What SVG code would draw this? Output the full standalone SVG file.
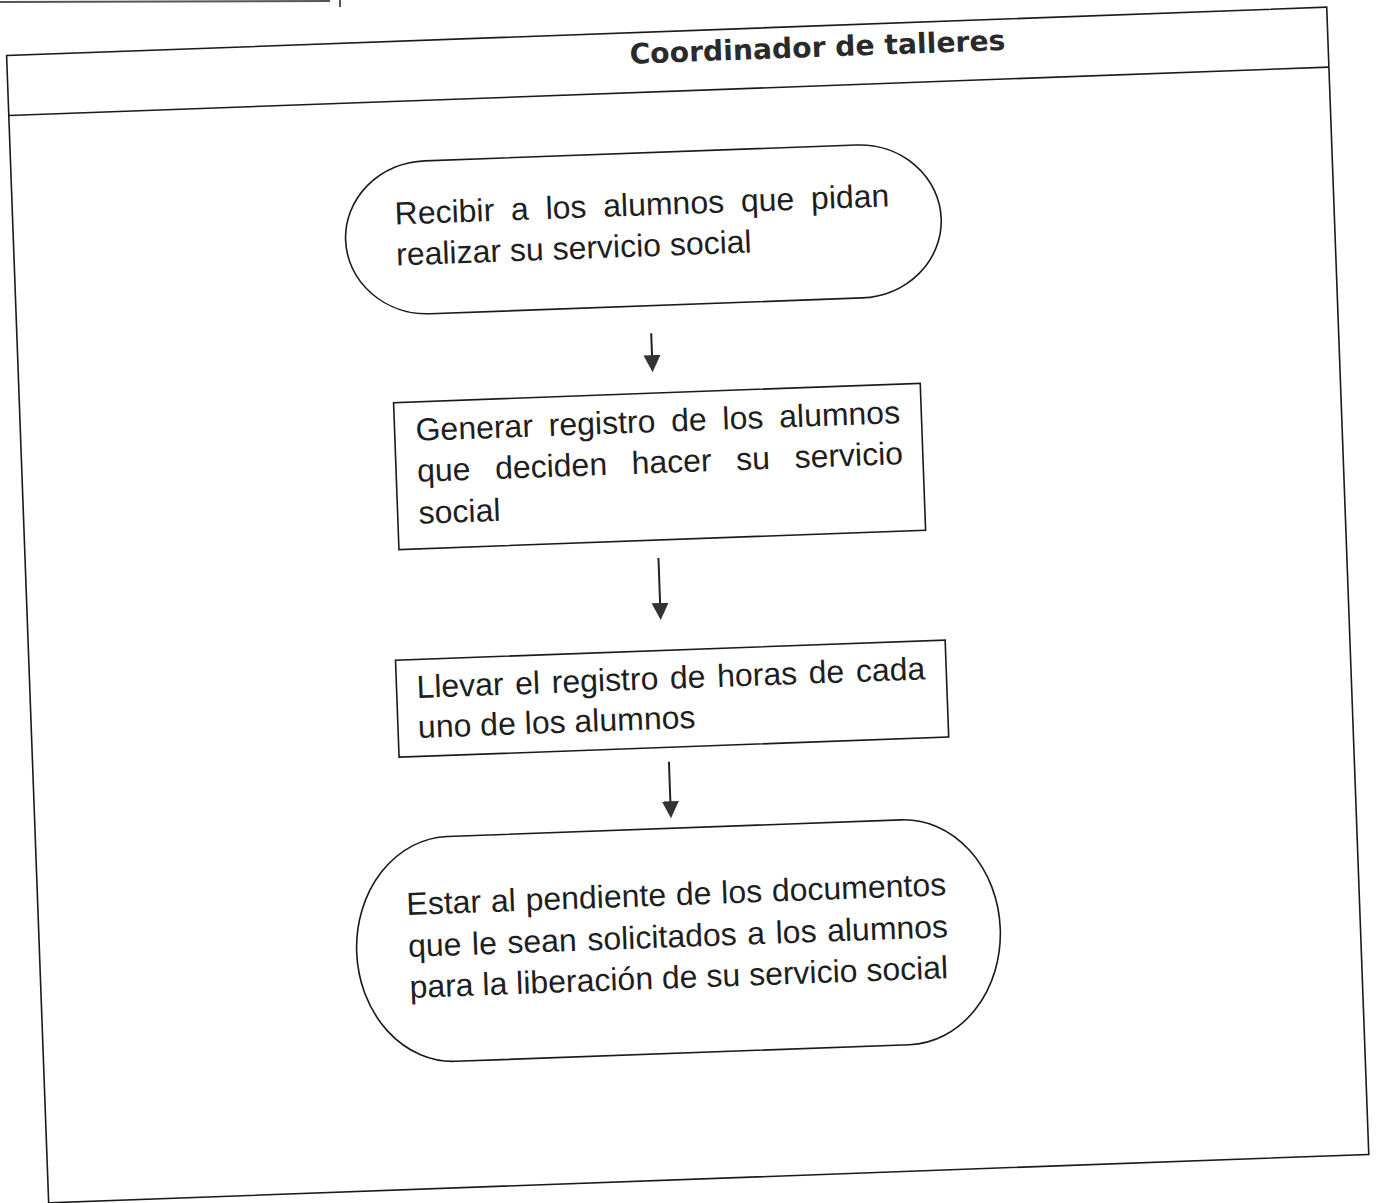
<svg xmlns="http://www.w3.org/2000/svg" width="1376" height="1203" viewBox="0 0 1376 1203">
<style>
.frame{fill:none;stroke:#1a1a1a;stroke-width:1.6}
.node{fill:#fff;stroke:#1a1a1a;stroke-width:1.6}
.t{font-family:"Liberation Sans",Arial,sans-serif;font-size:32px;fill:#1e1e1e}
.title{font-family:"DejaVu Sans",Verdana,sans-serif;font-weight:bold;font-size:28px;fill:#2a2a2a}
.edge{stroke:#222;stroke-width:2;fill:none}
.scrap{stroke:#555;stroke-width:2;fill:none}
</style>
<defs>
<marker id="ah" markerUnits="userSpaceOnUse" markerWidth="18" markerHeight="18" refX="9" refY="8.5" orient="auto">
<path d="M0,0 L17,8.5 L0,17 z" fill="#333"/>
</marker>
</defs>
<rect x="0" y="0" width="1376" height="1203" fill="#fff"/>
<g id="scraps">
<line class="scrap" x1="0" y1="2" x2="330" y2="1"/>
<line class="scrap" x1="340" y1="0" x2="340" y2="7"/>
</g>
<g transform="rotate(-2.1 688 600)">
<g id="lane">
<rect class="frame" x="27" y="31" width="1321" height="1148"/>
<line class="frame" x1="27" y1="91" x2="1348" y2="91"/>
<text class="title" x="649.6" y="62" textLength="376" lengthAdjust="spacingAndGlyphs">Coordinador de talleres</text>
</g>
<g id="connectors">
<line class="edge" x1="661" y1="332" x2="661" y2="363" marker-end="url(#ah)"/>
<line class="edge" x1="660" y1="557" x2="660" y2="611" marker-end="url(#ah)"/>
<line class="edge" x1="663" y1="761" x2="663" y2="809.5" marker-end="url(#ah)"/>
</g>
<g id="n1">
<rect class="node" x="359" y="151.5" width="596" height="153" rx="82" ry="76.5"/>
<text class="t" x="409" y="214" word-spacing="7.9">Recibir a los alumnos que pidan</text>
<text class="t" x="409" y="255">realizar su servicio social</text>
</g>
<g id="n2">
<rect class="node" x="401" y="392" width="527" height="147"/>
<text class="t" x="422" y="431" word-spacing="6.9">Generar registro de los alumnos</text>
<text class="t" x="422" y="472" word-spacing="15.7">que deciden hacer su servicio</text>
<text class="t" x="422" y="514">social</text>
</g>
<g id="n3">
<rect class="node" x="393.5" y="649.5" width="550" height="97"/>
<text class="t" x="413.5" y="688" word-spacing="2.7">Llevar el registro de horas de cada</text>
<text class="t" x="413.5" y="728">uno de los alumnos</text>
</g>
<g id="n4">
<rect class="node" x="344" y="827.5" width="644" height="225" rx="95" ry="112.5"/>
<text class="t" x="395.5" y="904.5" word-spacing="0.9">Estar al pendiente de los documentos</text>
<text class="t" x="395.5" y="946.5" word-spacing="1.7">que le sean solicitados a los alumnos</text>
<text class="t" x="395.5" y="987.5">para la liberación de su servicio social</text>
</g>
</g>
</svg>
